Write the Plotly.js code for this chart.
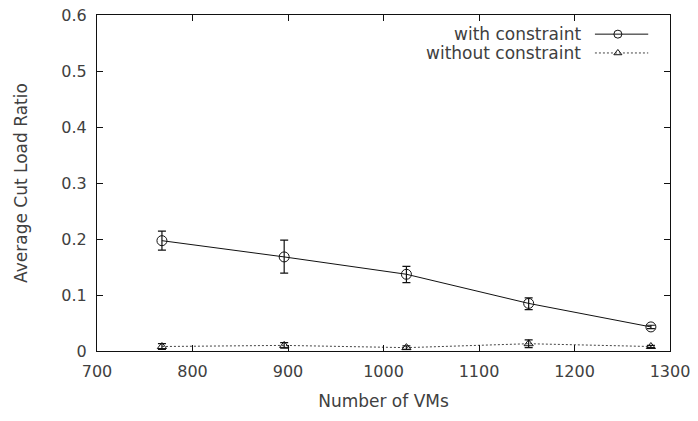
<!DOCTYPE html>
<html><head><meta charset="utf-8">
<script src="https://cdn.plot.ly/plotly-3.0.1.min.js"></script>
<style>html,body{margin:0;padding:0;background:#fff}#chart{width:698px;height:421px}</style>
</head><body><div id="chart"></div>
<script>
const vms = [768, 896, 1024, 1152, 1280];
const withConstraint = [0.197, 0.168, 0.137, 0.085, 0.043];
const withErrPlus = [0.017, 0.030, 0.014, 0.010, 0.003];
const withErrMinus = [0.017, 0.029, 0.015, 0.011, 0.003];
const withoutConstraint = [0.008, 0.010, 0.006, 0.013, 0.008];
const withoutErr = [0.005, 0.005, 0.003, 0.007, 0.002];
const legendNames = ["with constraint", "without constraint"];
const yTickVals = [0, 0.1, 0.2, 0.3, 0.4, 0.5, 0.6];
const yTickText = ["0", "0.1", "0.2", "0.3", "0.4", "0.5", "0.6"];

const tickFont = {family: "DejaVu Sans", size: 16, color: "#404040"};
const titleFont = {family: "DejaVu Sans", size: 17, color: "#404040"};
const legFont = {family: "DejaVu Sans", size: 17, color: "#404040"};
const traces = [
  {x: vms, y: withConstraint, type: "scatter", mode: "lines+markers", name: legendNames[0],
   line: {color: "#111", width: 1},
   marker: {symbol: "circle-open", size: 10, color: "#111", line: {width: 1}},
   error_y: {type: "data", array: withErrPlus, arrayminus: withErrMinus, color: "#111", thickness: 1.2, width: 4},
   showlegend: false},
  {x: vms, y: withoutConstraint, type: "scatter", mode: "lines+markers", name: legendNames[1],
   line: {color: "#444", width: 1, dash: "2px,2px"},
   marker: {symbol: "triangle-up-open", size: 8, color: "#111", line: {width: 1}},
   error_y: {type: "data", array: withoutErr, color: "#111", thickness: 1.2, width: 4},
   showlegend: false}
];
// manual legend (gnuplot style: text then sample)
const row1 = 0.943, row2 = 0.887;
const shapes = [
  {type: "line", xref: "paper", yref: "paper", x0: 0.869, x1: 0.962, y0: row1, y1: row1, line: {color: "#111", width: 1}},
  {type: "line", xref: "paper", yref: "paper", x0: 0.869, x1: 0.962, y0: row2, y1: row2, line: {color: "#444", width: 1, dash: "2px,2px"}}
];
const annotations = [
  {xref: "paper", yref: "paper", x: 0.848, y: row1, xanchor: "right", yanchor: "middle", text: legendNames[0], showarrow: false, font: legFont},
  {xref: "paper", yref: "paper", x: 0.848, y: row2, xanchor: "right", yanchor: "middle", text: legendNames[1], showarrow: false, font: legFont}
];
traces.push({x: [0.909], y: [row1], xaxis: "x2", yaxis: "y2", type: "scatter", mode: "markers",
  marker: {symbol: "circle-open", size: 8, color: "#111", line: {width: 1}}, showlegend: false, hoverinfo: "skip"});
traces.push({x: [0.909], y: [row2], xaxis: "x2", yaxis: "y2", type: "scatter", mode: "markers",
  marker: {symbol: "triangle-up-open", size: 7, color: "#111", line: {width: 1}}, showlegend: false, hoverinfo: "skip"});

const layout = {
  width: 698, height: 421,
  margin: {l: 97, r: 28, t: 15, b: 70},
  paper_bgcolor: "#fff", plot_bgcolor: "#fff",
  showlegend: false,
  xaxis: {range: [700, 1300], dtick: 100, tick0: 700, ticks: "inside", ticklen: 6, tickcolor: "#111",
    showline: true, linecolor: "#111", linewidth: 1, mirror: "ticks", showgrid: false, zeroline: false,
    title: {text: "Number of VMs", font: titleFont, standoff: 14}, tickfont: tickFont, ticklabelstandoff: 6},
  yaxis: {range: [0, 0.6], tickvals: yTickVals, ticktext: yTickText, ticks: "inside", ticklen: 6, tickcolor: "#111",
    showline: true, linecolor: "#111", linewidth: 1, mirror: "ticks", showgrid: false, zeroline: false,
    title: {text: "Average Cut Load Ratio", font: titleFont, standoff: 29}, tickfont: tickFont, ticklabelstandoff: 6},
  xaxis2: {range: [0, 1], visible: false, fixedrange: true, overlaying: "x", anchor: "y2"},
  yaxis2: {range: [0, 1], visible: false, fixedrange: true, overlaying: "y", anchor: "x2"},
  shapes: shapes,
  annotations: annotations
};
Plotly.newPlot("chart", traces, layout, {displayModeBar: false, staticPlot: true});
</script></body></html>
